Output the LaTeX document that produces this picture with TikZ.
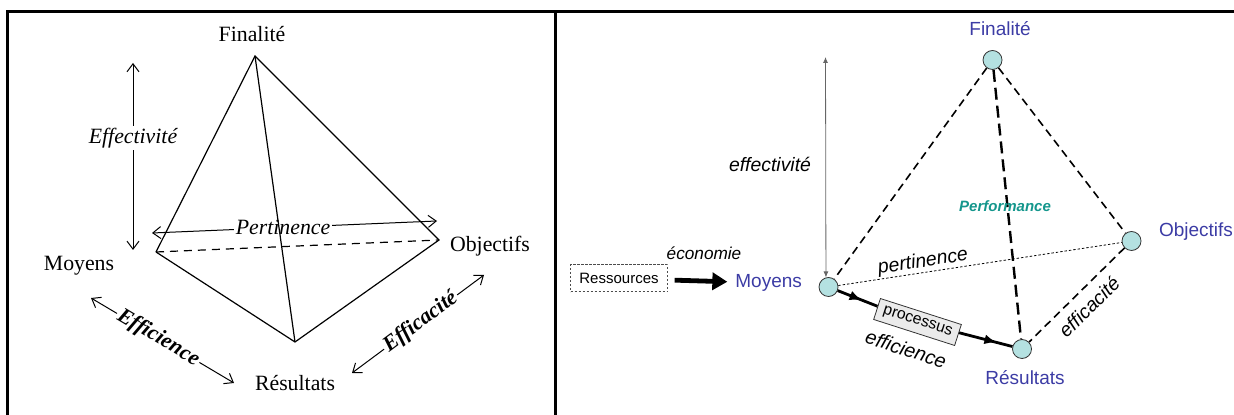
\documentclass[tikz,border=0pt]{standalone}
\usepackage{fontspec}
\setmainfont{Liberation Serif}
\newfontfamily\arialfont{Liberation Sans}
\usetikzlibrary{arrows.meta, positioning, decorations.markings}

\definecolor{pointblue}{RGB}{60,60,165}
\definecolor{pointfill}{RGB}{180,225,225}
\definecolor{perfteal}{RGB}{20,150,140}

\begin{document}
\begin{tikzpicture}[
    x=0.5pt, y=-0.5pt,
    serif/.style={font=\fontsize{10.9}{13}\selectfont},
    serifit/.style={font=\fontsize{10.9}{13}\selectfont\itshape, fill=white, inner sep=1pt},
    serifbf/.style={font=\fontsize{10.9}{13}\selectfont\bfseries\itshape, fill=white, inner sep=1pt},
    edge/.style={line width=0.6pt},
    biarrow/.style={{Straight Barb[length=4pt,width=6pt]}-{Straight Barb[length=4pt,width=6pt]}, line width=0.5pt},
    point/.style={circle, draw=black!80, fill=pointfill, minimum size=9.5pt, inner sep=0pt, line width=0.4pt},
    pointlabel/.style={font=\arialfont\fontsize{9.5}{11}\selectfont, text=pointblue},
    sanslabel/.style={font=\arialfont\itshape\fontsize{9.7}{11}\selectfont},
    facet/.style={dash pattern=on 4pt off 2.5pt, line width=0.8pt},
    hidden/.style={dash pattern=on 1.2pt off 1pt, line width=0.4pt},
    thinarrow/.style={{Latex[length=3pt,width=2.5pt]}-{Latex[length=3pt,width=2.5pt]}, line width=0.4pt, draw=black!60},
    resbox/.style={rectangle, draw=black!70, dash pattern=on 1.2pt off 0.8pt, line width=0.5pt,
                   minimum width=48.5pt, minimum height=13.5pt, inner sep=1.5pt, font=\arialfont\fontsize{7.5}{8}\selectfont},
    procbox/.style={rectangle, draw=black!80, fill=black!8, line width=0.4pt,
                    minimum width=42.5pt, minimum height=11pt, inner sep=1pt, font=\arialfont\fontsize{7.9}{8}\selectfont},
    bigarrow/.style={-{Triangle[length=7.5pt,width=8.5pt]}, line width=2.4pt, shorten <=3.3pt, shorten >=0.5pt},
    flow/.style={line width=1.4pt, postaction={decorate}},
    perf/.style={font=\arialfont\bfseries\itshape\fontsize{7.5}{8}\selectfont, text=perfteal}
]
\useasboundingbox (0,0) rectangle (1234,415);

% frame
\draw[line width=1.5pt] (7.5,415) -- (7.5,12) -- (1234,12);
\draw[line width=1.5pt] (555.5,12) -- (555.5,415);

% left: tetrahedron
\coordinate (Ltop) at (255,56);
\coordinate (Lmoy) at (156,252);
\coordinate (Lobj) at (439,240);
\coordinate (Lres) at (295,342);

\node[serif] (LfinT) at (252,34) {Finalité};
\node[serif] (LmoyT) at (79,266) {Moyens};
\node[serif] (LobjT) at (490,246) {Objectifs};
\node[serif] (LresT) at (295,383) {Résultats};

\coordinate (effA) at (133,63);
\coordinate (effB) at (133,250);
\coordinate (perA) at (152,233);
\coordinate (perB) at (437,221);
\coordinate (ecA) at (91,298);
\coordinate (ecB) at (234,383);
\coordinate (caA) at (352,373);
\coordinate (caB) at (484,275);

\draw[biarrow] (effA) -- node[serifit, pos=0.4] (effL) {Effectivité} (effB);
\draw[biarrow] (perA) -- node[serifit, pos=0.46] (perL) {Pertinence} (perB);
\draw[biarrow] (ecA) -- node[serifbf, sloped, pos=0.47] (ecL) {Efficience} (ecB);
\draw[biarrow] (caA) -- node[serifbf, sloped, pos=0.52] (caL) {Efficacité} (caB);

\draw[edge] (Lmoy) -- (Ltop) -- (Lobj) -- (Lres) -- (Lmoy);
\draw[edge] (Ltop) -- (Lres);
\draw[edge, dash pattern=on 4pt off 3pt] (Lmoy) -- (Lobj);

% right: performance tetrahedron
\node[point] (fin) at (992.5,60) {};
\node[point] (moy) at (828.5,287) {};
\node[point] (obj) at (1131.5,241) {};
\node[point] (res) at (1022,349) {};

\node[pointlabel] (finT) at (1000,29) {Finalité};
\node[pointlabel, anchor=east] (moyT) at (809,283) {Moyens};
\node[pointlabel, anchor=west] (objT) at (1152,232) {Objectifs};
\node[pointlabel] (resT) at (1025,378) {Résultats};

\draw[facet] (fin) -- (moy);
\draw[facet] (fin) -- (obj);
\draw[facet] (obj) -- (res);
\draw[facet, line width=1.2pt, dash pattern=on 6pt off 3pt] (fin) -- (res);
\draw[hidden] (moy) -- (obj);

\node[perf] (perfT) at (1005,206) {Performance};
\node[sanslabel, rotate=8.6] (pertT) at (923,262) {pertinence};
\node[sanslabel, rotate=44.6] (effcT) at (1089,307) {efficacité};

\coordinate (effTop) at (825.5,57);
\draw[thinarrow] (effTop) -- (moy.105);
\node[sanslabel, anchor=east] (effT) at (818,164) {effectivité};

\node[resbox] (ress) at (619,278.5) {Ressources};
\draw[bigarrow] (ress) -- (moyT);
\node[sanslabel, font=\arialfont\itshape\fontsize{8.6}{9}\selectfont] (ecoT) at (704,253) {économie};

\node[procbox, rotate=-17.8] (proc) at (917.5,322) {processus};
\draw[flow, decoration={markings, mark=at position 0.6 with {\arrow{Latex[length=6pt,width=5pt]}}}] (moy) -- (proc);
\draw[flow, decoration={markings, mark=at position 0.7 with {\arrow{Latex[length=6pt,width=5pt]}}}] (proc) -- (res);
\node[sanslabel, font=\arialfont\itshape\fontsize{9.9}{11}\selectfont, rotate=-17.8] (effiT) at (906,349) {efficience};
\end{tikzpicture}
\end{document}
